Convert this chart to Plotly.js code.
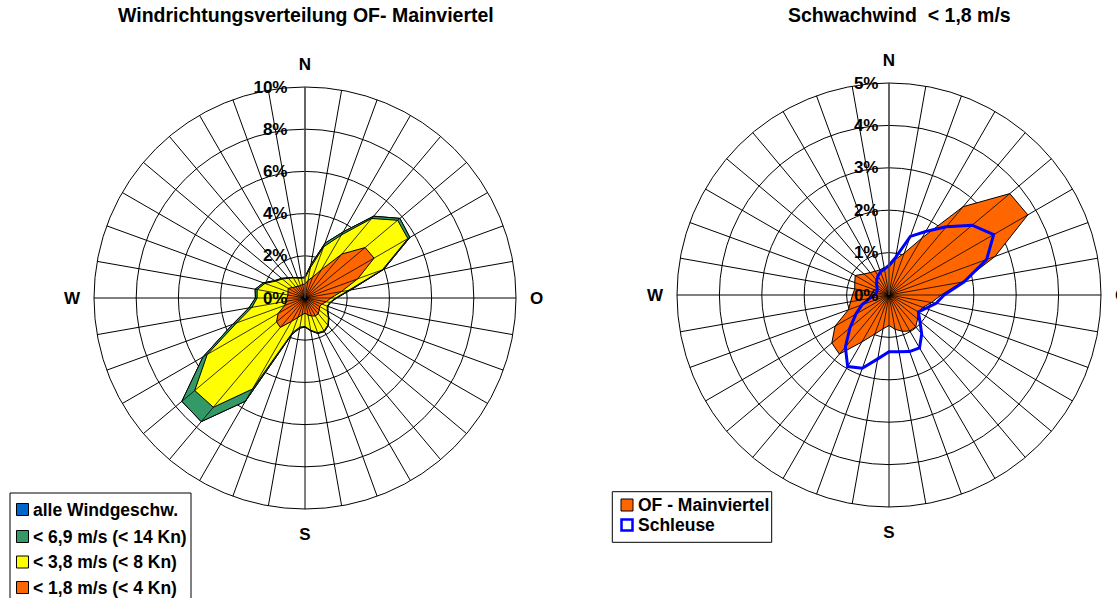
<!DOCTYPE html>
<html>
<head>
<meta charset="utf-8">
<script src="https://cdn.plot.ly/plotly-3.0.1.min.js"></script>
<style>
html,body{margin:0;padding:0;background:#fff;}
#chart{width:1117px;height:598px;}
</style>
</head>
<body>
<div id="chart"></div>
<script>
// ---------- data ----------
const DIRECTIONS = [0,10,20,30,40,50,60,70,80,90,100,110,120,130,140,150,160,170,
                    180,190,200,210,220,230,240,250,260,270,280,290,300,310,320,330,340,350];

// left chart: Windrichtungsverteilung OF- Mainviertel (% per direction)
const ALLE_WINDGESCHW = [1.00,1.60,2.76,3.62,5.06,5.87,5.74,3.97,2.20,1.50,1.23,1.15,1.25,1.48,1.71,1.84,1.79,1.58,
                         1.38,1.45,1.85,5.65,7.65,7.62,5.58,3.65,2.70,2.35,2.40,2.10,1.65,1.45,1.25,1.12,1.03,0.98];
const UNTER_6_9 = [1.00,1.60,2.76,3.62,5.06,5.87,5.74,3.97,2.20,1.50,1.23,1.15,1.25,1.48,1.71,1.84,1.79,1.58,
                   1.38,1.45,1.85,5.65,7.65,7.62,5.58,3.65,2.70,2.35,2.40,2.10,1.65,1.45,1.25,1.12,1.03,0.98];
const UNTER_3_8 = [0.95,1.45,2.58,3.45,4.92,5.73,5.63,3.90,2.10,1.45,1.20,1.12,1.22,1.45,1.68,1.80,1.75,1.55,
                   1.35,1.40,1.75,4.98,6.76,6.82,5.35,3.45,2.55,2.27,2.30,2.02,1.60,1.40,1.22,1.10,1.00,0.95];
// < 1,8 m/s  (= Schwachwind OF - Mainviertel, right chart)
const UNTER_1_8 = [0.65,0.85,1.05,1.55,2.72,3.72,3.78,2.66,1.75,1.23,1.02,0.85,0.80,0.88,0.98,0.98,0.91,0.82,
                   0.72,0.81,0.98,1.28,1.82,1.76,1.47,1.02,0.92,0.86,0.82,0.86,0.92,0.77,0.69,0.65,0.63,0.66];
// right chart: Schleuse
const SCHLEUSE = [0.70,0.90,1.47,1.73,2.10,2.56,2.85,2.45,1.80,1.30,1.13,0.92,0.80,0.95,1.20,1.44,1.42,1.36,
                  1.34,1.53,1.84,1.95,1.60,1.20,0.90,0.68,0.46,0.34,0.30,0.30,0.32,0.38,0.45,0.52,0.58,0.62];

const RADIAL_TICKS_LEFT = [0,2,4,6,8,10];
const RADIAL_LABELS_LEFT = ['0%','2%','4%','6%','8%','10%'];
const RADIAL_TICKS_RIGHT = [0,1,2,3,4,5];
const RADIAL_LABELS_RIGHT = ['0%','1%','2%','3%','4%','5%'];
const CARDINAL_DIRS = [0,90,180,270];
const CARDINAL_TEXT = ['N','O','S','W'];

const TITLE_LEFT = 'Windrichtungsverteilung OF- Mainviertel';
const TITLE_RIGHT = 'Schwachwind \u00a0< 1,8 m/s';
const LEGEND_LEFT = ['alle Windgeschw.','< 6,9 m/s (< 14 Kn)','< 3,8 m/s (< 8 Kn)','< 1,8 m/s (< 4 Kn)'];
const LEGEND_RIGHT = ['OF - Mainviertel','Schleuse'];

// ---------- styling ----------
const C_BLUE = '#0066cc', C_GREEN = '#339966', C_YELLOW = '#ffff00', C_ORANGE = '#ff6600', C_LINE = '#0000ff';
const FONT = 'Liberation Sans, Arial, sans-serif';
const W = 1117, H = 598;

const closeLoop = a => a.concat([a[0]]);
const ticktext = DIRECTIONS.map(d => { const i = CARDINAL_DIRS.indexOf(d); return i >= 0 ? CARDINAL_TEXT[i] : ''; });

function area(vals, color, subplot, name) {
  return {type:'scatterpolar', subplot, name, r: closeLoop(vals), theta: closeLoop(DIRECTIONS),
          mode:'lines', fill:'toself', fillcolor: color, line:{color:'#000', width:1},
          hovertemplate: name + ' %{theta}°: %{r}%<extra></extra>'};
}
function spokes(vals, subplot) {
  const r = [], t = [];
  vals.forEach((v, i) => { r.push(0, v, null); t.push(DIRECTIONS[i], DIRECTIONS[i], null); });
  return {type:'scatterpolar', subplot, r, theta: t, mode:'lines', connectgaps:false,
          line:{color:'#000', width:0.8}, hoverinfo:'skip'};
}

const traces = [
  area(ALLE_WINDGESCHW, C_BLUE, 'polar', LEGEND_LEFT[0]),
  area(UNTER_6_9, C_GREEN, 'polar', LEGEND_LEFT[1]),
  area(UNTER_3_8, C_YELLOW, 'polar', LEGEND_LEFT[2]),
  area(UNTER_1_8, C_ORANGE, 'polar', LEGEND_LEFT[3]),
  spokes(ALLE_WINDGESCHW, 'polar'),
  area(UNTER_1_8, C_ORANGE, 'polar2', LEGEND_RIGHT[0]),
  spokes(UNTER_1_8, 'polar2'),
  {type:'scatterpolar', subplot:'polar2', name: LEGEND_RIGHT[1], r: closeLoop(SCHLEUSE), theta: closeLoop(DIRECTIONS),
   mode:'lines', line:{color:C_LINE, width:3}, hovertemplate: LEGEND_RIGHT[1] + ' %{theta}°: %{r}%<extra></extra>'}
];

function polarLayout(cx, cy, rad, range, tickvals, ticklabels, labelGap) {
  return {
    domain: {x:[(cx-rad)/W, (cx+rad)/W], y:[(H-cy-rad)/H, (H-cy+rad)/H]},
    bgcolor:'#fff',
    angularaxis: {rotation:90, direction:'clockwise', tickmode:'array', tickvals: DIRECTIONS, ticktext,
                  ticks:'outside', ticklen:10, tickcolor:'rgba(0,0,0,0)',
                  showgrid:true, gridcolor:'#000', gridwidth:1, showline:true, linecolor:'#000', linewidth:1,
                  tickfont:{family:FONT, size:17, color:'#000', weight:'bold'}},
    radialaxis: {range, tickmode:'array', tickvals, ticktext: ticklabels, angle:90, side:'counterclockwise',
                 ticks:'outside', ticklen:labelGap, tickcolor:'rgba(0,0,0,0)', tickangle:90,
                 showline:true, linecolor:'#555', linewidth:1.2,
                 showgrid:true, gridcolor:'#000', gridwidth:1,
                 tickfont:{family:FONT, size:17, color:'#000', weight:'bold'}}
  };
}

const px = x => x / W, py = y => 1 - y / H;
const shapes = [], annotations = [];

annotations.push({xref:'paper', yref:'paper', x:px(306), y:py(15), xanchor:'center', yanchor:'middle', showarrow:false,
                  text: TITLE_LEFT, font:{family:FONT, size:19.5, color:'#000', weight:'bold'}});
annotations.push({xref:'paper', yref:'paper', x:px(899), y:py(15), xanchor:'center', yanchor:'middle', showarrow:false,
                  text: TITLE_RIGHT, font:{family:FONT, size:19.5, color:'#000', weight:'bold'}});

// left legend
shapes.push({type:'rect', xref:'paper', yref:'paper', x0:px(10), x1:px(191), y0:py(610), y1:py(493),
             line:{color:'#000', width:1}, fillcolor:'#fff', layer:'above'});
const legLeftColors = [C_BLUE, C_GREEN, C_YELLOW, C_ORANGE];
const legLeftY = [509.5, 536.5, 562, 587.5];
LEGEND_LEFT.forEach((txt, i) => {
  const y = legLeftY[i];
  shapes.push({type:'rect', xref:'paper', yref:'paper', x0:px(16.5), x1:px(28.5), y0:py(y+6), y1:py(y-6),
               line:{color:'#000', width:1}, fillcolor: legLeftColors[i], layer:'above'});
  annotations.push({xref:'paper', yref:'paper', x:px(31), y:py(y), xanchor:'left', yanchor:'middle', showarrow:false,
                    text: txt.replace(/</g,'&lt;'), font:{family:FONT, size:17.5, color:'#000', weight:'bold'}});
});

// right legend
shapes.push({type:'rect', xref:'paper', yref:'paper', x0:px(612.3), x1:px(771.7), y0:py(542.3), y1:py(491.7),
             line:{color:'#000', width:1}, fillcolor:'#fff', layer:'above'});
const legRightY = [505, 525];
shapes.push({type:'rect', xref:'paper', yref:'paper', x0:px(621), x1:px(633), y0:py(legRightY[0]+6), y1:py(legRightY[0]-6),
             line:{color:'#000', width:1}, fillcolor: C_ORANGE, layer:'above'});
shapes.push({type:'rect', xref:'paper', yref:'paper', x0:px(621.5), x1:px(632.5), y0:py(legRightY[1]+5.5), y1:py(legRightY[1]-5.5),
             line:{color:C_LINE, width:2.5}, fillcolor:'#fff', layer:'above'});
LEGEND_RIGHT.forEach((txt, i) => {
  annotations.push({xref:'paper', yref:'paper', x:px(635.5), y:py(legRightY[i]), xanchor:'left', yanchor:'middle', showarrow:false,
                    text: txt, font:{family:FONT, size:17.5, color:'#000', weight:'bold'}});
});

const layout = {
  width: W, height: H,
  margin:{l:0, r:0, t:0, b:0},
  paper_bgcolor:'#fff',
  showlegend:false,
  font:{family:FONT, color:'#000'},
  polar: polarLayout(305, 298, 211, [0,10], RADIAL_TICKS_LEFT, RADIAL_LABELS_LEFT, 11),
  polar2: polarLayout(889, 295, 212, [0,5], RADIAL_TICKS_RIGHT, RADIAL_LABELS_RIGHT, 4),
  shapes, annotations
};

Plotly.newPlot('chart', traces, layout, {displayModeBar:false});
</script>
</body>
</html>
